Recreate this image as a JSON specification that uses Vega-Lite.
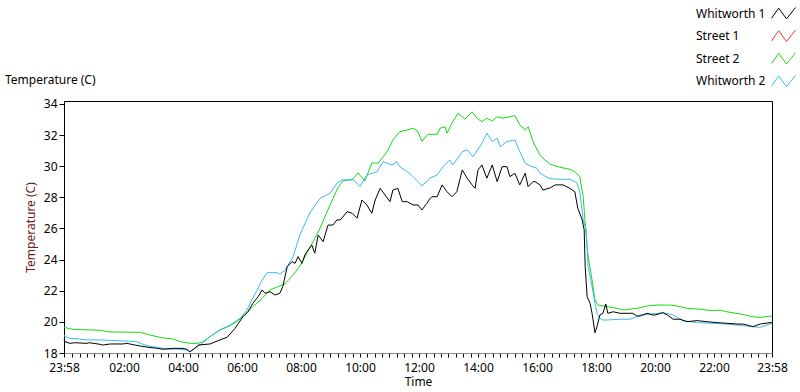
{
  "$schema": "https://vega.github.io/schema/vega-lite/v6.json",
  "width": 708,
  "height": 252,
  "autosize": "none",
  "padding": {"left": 64, "top": 101, "right": 28, "bottom": 39},
  "background": "white",
  "title": {"text": "Temperature (C)", "anchor": "start", "frame": "group", "dx": -59, "offset": 0, "dy": 86, "fontSize": 12, "fontWeight": "normal", "font": "Noto Sans", "color": "#000000"},
  "config": {
    "view": {"stroke": "#000000"},
    "font": "Noto Sans",
    "axis": {"labelFont": "Noto Sans", "labelFontSize": 12, "labelColor": "#000000", "tickColor": "#000000", "domainColor": "#000000", "grid": false, "titleFont": "Noto Sans", "titleFontSize": 12, "titleFontWeight": "normal", "titleColor": "#000000"}
  },
  "data": {"values": [
    {"s":"Street 2","t":"2024-01-01T23:58","v":19.65},
    {"s":"Street 2","t":"2024-01-02T00:16","v":19.52},
    {"s":"Street 2","t":"2024-01-02T01:11","v":19.46},
    {"s":"Street 2","t":"2024-01-02T01:32","v":19.35},
    {"s":"Street 2","t":"2024-01-02T02:33","v":19.33},
    {"s":"Street 2","t":"2024-01-02T02:47","v":19.20},
    {"s":"Street 2","t":"2024-01-02T02:59","v":19.11},
    {"s":"Street 2","t":"2024-01-02T03:17","v":18.98},
    {"s":"Street 2","t":"2024-01-02T03:40","v":18.90},
    {"s":"Street 2","t":"2024-01-02T03:54","v":18.73},
    {"s":"Street 2","t":"2024-01-02T04:14","v":18.62},
    {"s":"Street 2","t":"2024-01-02T04:31","v":18.62},
    {"s":"Street 2","t":"2024-01-02T04:40","v":18.72},
    {"s":"Street 2","t":"2024-01-02T04:55","v":19.05},
    {"s":"Street 2","t":"2024-01-02T05:15","v":19.48},
    {"s":"Street 2","t":"2024-01-02T05:36","v":19.75},
    {"s":"Street 2","t":"2024-01-02T05:56","v":20.17},
    {"s":"Street 2","t":"2024-01-02T06:10","v":20.59},
    {"s":"Street 2","t":"2024-01-02T06:22","v":20.98},
    {"s":"Street 2","t":"2024-01-02T06:41","v":21.51},
    {"s":"Street 2","t":"2024-01-02T06:57","v":22.05},
    {"s":"Street 2","t":"2024-01-02T07:17","v":22.31},
    {"s":"Street 2","t":"2024-01-02T07:27","v":22.43},
    {"s":"Street 2","t":"2024-01-02T07:44","v":23.01},
    {"s":"Street 2","t":"2024-01-02T07:58","v":23.60},
    {"s":"Street 2","t":"2024-01-02T08:18","v":24.75},
    {"s":"Street 2","t":"2024-01-02T08:39","v":26.03},
    {"s":"Street 2","t":"2024-01-02T08:59","v":27.51},
    {"s":"Street 2","t":"2024-01-02T09:15","v":28.60},
    {"s":"Street 2","t":"2024-01-02T09:25","v":29.05},
    {"s":"Street 2","t":"2024-01-02T09:46","v":29.18},
    {"s":"Street 2","t":"2024-01-02T09:56","v":29.57},
    {"s":"Street 2","t":"2024-01-02T10:10","v":29.05},
    {"s":"Street 2","t":"2024-01-02T10:24","v":30.21},
    {"s":"Street 2","t":"2024-01-02T10:37","v":30.21},
    {"s":"Street 2","t":"2024-01-02T10:47","v":30.60},
    {"s":"Street 2","t":"2024-01-02T10:57","v":31.04},
    {"s":"Street 2","t":"2024-01-02T11:07","v":31.69},
    {"s":"Street 2","t":"2024-01-02T11:21","v":32.22},
    {"s":"Street 2","t":"2024-01-02T11:36","v":32.33},
    {"s":"Street 2","t":"2024-01-02T11:48","v":32.44},
    {"s":"Street 2","t":"2024-01-02T11:58","v":32.22},
    {"s":"Street 2","t":"2024-01-02T12:06","v":31.60},
    {"s":"Street 2","t":"2024-01-02T12:18","v":32.05},
    {"s":"Street 2","t":"2024-01-02T12:37","v":32.05},
    {"s":"Street 2","t":"2024-01-02T12:43","v":32.44},
    {"s":"Street 2","t":"2024-01-02T12:53","v":32.54},
    {"s":"Street 2","t":"2024-01-02T12:57","v":32.12},
    {"s":"Street 2","t":"2024-01-02T13:07","v":32.76},
    {"s":"Street 2","t":"2024-01-02T13:19","v":33.40},
    {"s":"Street 2","t":"2024-01-02T13:34","v":33.04},
    {"s":"Street 2","t":"2024-01-02T13:48","v":33.50},
    {"s":"Street 2","t":"2024-01-02T13:58","v":33.08},
    {"s":"Street 2","t":"2024-01-02T14:08","v":32.86},
    {"s":"Street 2","t":"2024-01-02T14:18","v":33.08},
    {"s":"Street 2","t":"2024-01-02T14:29","v":32.91},
    {"s":"Street 2","t":"2024-01-02T14:39","v":33.18},
    {"s":"Street 2","t":"2024-01-02T14:51","v":33.08},
    {"s":"Street 2","t":"2024-01-02T15:05","v":33.18},
    {"s":"Street 2","t":"2024-01-02T15:15","v":33.25},
    {"s":"Street 2","t":"2024-01-02T15:25","v":32.65},
    {"s":"Street 2","t":"2024-01-02T15:36","v":32.33},
    {"s":"Street 2","t":"2024-01-02T15:42","v":32.54},
    {"s":"Street 2","t":"2024-01-02T15:52","v":31.58},
    {"s":"Street 2","t":"2024-01-02T16:06","v":30.72},
    {"s":"Street 2","t":"2024-01-02T16:16","v":30.40},
    {"s":"Street 2","t":"2024-01-02T16:26","v":30.14},
    {"s":"Street 2","t":"2024-01-02T16:47","v":29.93},
    {"s":"Street 2","t":"2024-01-02T17:07","v":29.80},
    {"s":"Street 2","t":"2024-01-02T17:17","v":29.65},
    {"s":"Street 2","t":"2024-01-02T17:27","v":29.33},
    {"s":"Street 2","t":"2024-01-02T17:34","v":28.04},
    {"s":"Street 2","t":"2024-01-02T17:38","v":26.35},
    {"s":"Street 2","t":"2024-01-02T17:44","v":24.19},
    {"s":"Street 2","t":"2024-01-02T17:52","v":22.69},
    {"s":"Street 2","t":"2024-01-02T17:58","v":21.41},
    {"s":"Street 2","t":"2024-01-02T18:04","v":21.08},
    {"s":"Street 2","t":"2024-01-02T18:22","v":20.98},
    {"s":"Street 2","t":"2024-01-02T18:43","v":20.87},
    {"s":"Street 2","t":"2024-01-02T18:55","v":20.76},
    {"s":"Street 2","t":"2024-01-02T19:23","v":20.87},
    {"s":"Street 2","t":"2024-01-02T19:44","v":21.02},
    {"s":"Street 2","t":"2024-01-02T20:04","v":21.08},
    {"s":"Street 2","t":"2024-01-02T20:31","v":21.08},
    {"s":"Street 2","t":"2024-01-02T20:45","v":21.02},
    {"s":"Street 2","t":"2024-01-02T21:05","v":20.87},
    {"s":"Street 2","t":"2024-01-02T21:32","v":20.81},
    {"s":"Street 2","t":"2024-01-02T21:58","v":20.72},
    {"s":"Street 2","t":"2024-01-02T22:12","v":20.76},
    {"s":"Street 2","t":"2024-01-02T22:26","v":20.65},
    {"s":"Street 2","t":"2024-01-02T22:53","v":20.51},
    {"s":"Street 2","t":"2024-01-02T23:19","v":20.33},
    {"s":"Street 2","t":"2024-01-02T23:34","v":20.29},
    {"s":"Street 2","t":"2024-01-02T23:58","v":20.38},

    {"s":"Whitworth 2","t":"2024-01-01T23:58","v":19.16},
    {"s":"Whitworth 2","t":"2024-01-02T00:00","v":19.05},
    {"s":"Whitworth 2","t":"2024-01-02T00:10","v":18.94},
    {"s":"Whitworth 2","t":"2024-01-02T00:30","v":18.90},
    {"s":"Whitworth 2","t":"2024-01-02T00:45","v":18.84},
    {"s":"Whitworth 2","t":"2024-01-02T01:11","v":18.84},
    {"s":"Whitworth 2","t":"2024-01-02T01:48","v":18.79},
    {"s":"Whitworth 2","t":"2024-01-02T02:26","v":18.73},
    {"s":"Whitworth 2","t":"2024-01-02T02:37","v":18.58},
    {"s":"Whitworth 2","t":"2024-01-02T02:49","v":18.45},
    {"s":"Whitworth 2","t":"2024-01-02T03:07","v":18.37},
    {"s":"Whitworth 2","t":"2024-01-02T03:19","v":18.30},
    {"s":"Whitworth 2","t":"2024-01-02T03:34","v":18.24},
    {"s":"Whitworth 2","t":"2024-01-02T03:44","v":18.26},
    {"s":"Whitworth 2","t":"2024-01-02T04:08","v":18.19},
    {"s":"Whitworth 2","t":"2024-01-02T04:14","v":18.08},
    {"s":"Whitworth 2","t":"2024-01-02T04:24","v":18.30},
    {"s":"Whitworth 2","t":"2024-01-02T04:35","v":18.51},
    {"s":"Whitworth 2","t":"2024-01-02T04:55","v":19.05},
    {"s":"Whitworth 2","t":"2024-01-02T05:15","v":19.48},
    {"s":"Whitworth 2","t":"2024-01-02T05:36","v":19.80},
    {"s":"Whitworth 2","t":"2024-01-02T05:56","v":20.23},
    {"s":"Whitworth 2","t":"2024-01-02T06:10","v":20.76},
    {"s":"Whitworth 2","t":"2024-01-02T06:20","v":21.41},
    {"s":"Whitworth 2","t":"2024-01-02T06:31","v":22.05},
    {"s":"Whitworth 2","t":"2024-01-02T06:41","v":22.69},
    {"s":"Whitworth 2","t":"2024-01-02T06:51","v":23.16},
    {"s":"Whitworth 2","t":"2024-01-02T07:11","v":23.16},
    {"s":"Whitworth 2","t":"2024-01-02T07:17","v":23.08},
    {"s":"Whitworth 2","t":"2024-01-02T07:27","v":23.29},
    {"s":"Whitworth 2","t":"2024-01-02T07:44","v":24.19},
    {"s":"Whitworth 2","t":"2024-01-02T07:58","v":25.60},
    {"s":"Whitworth 2","t":"2024-01-02T08:18","v":27.00},
    {"s":"Whitworth 2","t":"2024-01-02T08:39","v":27.94},
    {"s":"Whitworth 2","t":"2024-01-02T08:59","v":28.26},
    {"s":"Whitworth 2","t":"2024-01-02T09:13","v":28.90},
    {"s":"Whitworth 2","t":"2024-01-02T09:23","v":29.12},
    {"s":"Whitworth 2","t":"2024-01-02T09:46","v":29.12},
    {"s":"Whitworth 2","t":"2024-01-02T09:54","v":28.90},
    {"s":"Whitworth 2","t":"2024-01-02T10:00","v":28.69},
    {"s":"Whitworth 2","t":"2024-01-02T10:14","v":29.44},
    {"s":"Whitworth 2","t":"2024-01-02T10:35","v":29.65},
    {"s":"Whitworth 2","t":"2024-01-02T10:47","v":30.29},
    {"s":"Whitworth 2","t":"2024-01-02T11:05","v":30.08},
    {"s":"Whitworth 2","t":"2024-01-02T11:15","v":30.29},
    {"s":"Whitworth 2","t":"2024-01-02T11:21","v":29.97},
    {"s":"Whitworth 2","t":"2024-01-02T11:36","v":29.65},
    {"s":"Whitworth 2","t":"2024-01-02T11:48","v":29.33},
    {"s":"Whitworth 2","t":"2024-01-02T11:58","v":29.01},
    {"s":"Whitworth 2","t":"2024-01-02T12:06","v":28.75},
    {"s":"Whitworth 2","t":"2024-01-02T12:16","v":29.00},
    {"s":"Whitworth 2","t":"2024-01-02T12:22","v":29.23},
    {"s":"Whitworth 2","t":"2024-01-02T12:37","v":29.44},
    {"s":"Whitworth 2","t":"2024-01-02T12:49","v":29.97},
    {"s":"Whitworth 2","t":"2024-01-02T13:03","v":30.40},
    {"s":"Whitworth 2","t":"2024-01-02T13:09","v":30.08},
    {"s":"Whitworth 2","t":"2024-01-02T13:28","v":30.94},
    {"s":"Whitworth 2","t":"2024-01-02T13:38","v":31.05},
    {"s":"Whitworth 2","t":"2024-01-02T13:50","v":30.61},
    {"s":"Whitworth 2","t":"2024-01-02T14:08","v":31.47},
    {"s":"Whitworth 2","t":"2024-01-02T14:18","v":32.12},
    {"s":"Whitworth 2","t":"2024-01-02T14:29","v":31.58},
    {"s":"Whitworth 2","t":"2024-01-02T14:39","v":31.80},
    {"s":"Whitworth 2","t":"2024-01-02T14:45","v":31.26},
    {"s":"Whitworth 2","t":"2024-01-02T14:59","v":31.58},
    {"s":"Whitworth 2","t":"2024-01-02T15:15","v":31.69},
    {"s":"Whitworth 2","t":"2024-01-02T15:25","v":30.94},
    {"s":"Whitworth 2","t":"2024-01-02T15:36","v":30.19},
    {"s":"Whitworth 2","t":"2024-01-02T15:46","v":30.02},
    {"s":"Whitworth 2","t":"2024-01-02T16:00","v":29.87},
    {"s":"Whitworth 2","t":"2024-01-02T16:06","v":29.55},
    {"s":"Whitworth 2","t":"2024-01-02T16:12","v":29.44},
    {"s":"Whitworth 2","t":"2024-01-02T16:26","v":29.20},
    {"s":"Whitworth 2","t":"2024-01-02T16:47","v":29.16},
    {"s":"Whitworth 2","t":"2024-01-02T17:07","v":29.16},
    {"s":"Whitworth 2","t":"2024-01-02T17:21","v":28.94},
    {"s":"Whitworth 2","t":"2024-01-02T17:27","v":28.36},
    {"s":"Whitworth 2","t":"2024-01-02T17:34","v":26.55},
    {"s":"Whitworth 2","t":"2024-01-02T17:40","v":25.90},
    {"s":"Whitworth 2","t":"2024-01-02T17:44","v":23.55},
    {"s":"Whitworth 2","t":"2024-01-02T17:52","v":22.26},
    {"s":"Whitworth 2","t":"2024-01-02T17:58","v":21.19},
    {"s":"Whitworth 2","t":"2024-01-02T18:02","v":20.55},
    {"s":"Whitworth 2","t":"2024-01-02T18:08","v":20.23},
    {"s":"Whitworth 2","t":"2024-01-02T18:14","v":20.12},
    {"s":"Whitworth 2","t":"2024-01-02T18:22","v":20.12},
    {"s":"Whitworth 2","t":"2024-01-02T18:49","v":20.17},
    {"s":"Whitworth 2","t":"2024-01-02T19:09","v":20.17},
    {"s":"Whitworth 2","t":"2024-01-02T19:23","v":20.33},
    {"s":"Whitworth 2","t":"2024-01-02T19:30","v":20.44},
    {"s":"Whitworth 2","t":"2024-01-02T19:56","v":20.51},
    {"s":"Whitworth 2","t":"2024-01-02T20:16","v":20.59},
    {"s":"Whitworth 2","t":"2024-01-02T20:37","v":20.44},
    {"s":"Whitworth 2","t":"2024-01-02T20:57","v":20.08},
    {"s":"Whitworth 2","t":"2024-01-02T21:26","v":19.95},
    {"s":"Whitworth 2","t":"2024-01-02T21:58","v":19.91},
    {"s":"Whitworth 2","t":"2024-01-02T22:26","v":19.86},
    {"s":"Whitworth 2","t":"2024-01-02T22:53","v":19.78},
    {"s":"Whitworth 2","t":"2024-01-02T23:19","v":19.69},
    {"s":"Whitworth 2","t":"2024-01-02T23:34","v":19.65},
    {"s":"Whitworth 2","t":"2024-01-02T23:58","v":19.91},

    {"s":"Whitworth 1","t":"2024-01-01T23:58","v":18.88},
    {"s":"Whitworth 1","t":"2024-01-02T00:00","v":18.73},
    {"s":"Whitworth 1","t":"2024-01-02T00:10","v":18.62},
    {"s":"Whitworth 1","t":"2024-01-02T00:20","v":18.66},
    {"s":"Whitworth 1","t":"2024-01-02T00:45","v":18.62},
    {"s":"Whitworth 1","t":"2024-01-02T00:50","v":18.66},
    {"s":"Whitworth 1","t":"2024-01-02T01:11","v":18.56},
    {"s":"Whitworth 1","t":"2024-01-02T01:17","v":18.51},
    {"s":"Whitworth 1","t":"2024-01-02T01:32","v":18.58},
    {"s":"Whitworth 1","t":"2024-01-02T01:58","v":18.58},
    {"s":"Whitworth 1","t":"2024-01-02T02:06","v":18.62},
    {"s":"Whitworth 1","t":"2024-01-02T02:22","v":18.51},
    {"s":"Whitworth 1","t":"2024-01-02T02:33","v":18.45},
    {"s":"Whitworth 1","t":"2024-01-02T02:49","v":18.37},
    {"s":"Whitworth 1","t":"2024-01-02T03:07","v":18.30},
    {"s":"Whitworth 1","t":"2024-01-02T03:19","v":18.24},
    {"s":"Whitworth 1","t":"2024-01-02T03:40","v":18.30},
    {"s":"Whitworth 1","t":"2024-01-02T04:00","v":18.30},
    {"s":"Whitworth 1","t":"2024-01-02T04:08","v":18.24},
    {"s":"Whitworth 1","t":"2024-01-02T04:14","v":18.08},
    {"s":"Whitworth 1","t":"2024-01-02T04:24","v":18.30},
    {"s":"Whitworth 1","t":"2024-01-02T04:31","v":18.51},
    {"s":"Whitworth 1","t":"2024-01-02T04:55","v":18.58},
    {"s":"Whitworth 1","t":"2024-01-02T05:15","v":18.84},
    {"s":"Whitworth 1","t":"2024-01-02T05:30","v":19.01},
    {"s":"Whitworth 1","t":"2024-01-02T05:46","v":19.59},
    {"s":"Whitworth 1","t":"2024-01-02T06:02","v":20.33},
    {"s":"Whitworth 1","t":"2024-01-02T06:12","v":20.65},
    {"s":"Whitworth 1","t":"2024-01-02T06:22","v":21.19},
    {"s":"Whitworth 1","t":"2024-01-02T06:33","v":21.62},
    {"s":"Whitworth 1","t":"2024-01-02T06:41","v":22.05},
    {"s":"Whitworth 1","t":"2024-01-02T06:47","v":21.84},
    {"s":"Whitworth 1","t":"2024-01-02T06:57","v":21.94},
    {"s":"Whitworth 1","t":"2024-01-02T07:07","v":21.73},
    {"s":"Whitworth 1","t":"2024-01-02T07:17","v":21.84},
    {"s":"Whitworth 1","t":"2024-01-02T07:23","v":22.26},
    {"s":"Whitworth 1","t":"2024-01-02T07:32","v":23.55},
    {"s":"Whitworth 1","t":"2024-01-02T07:42","v":23.87},
    {"s":"Whitworth 1","t":"2024-01-02T07:48","v":23.76},
    {"s":"Whitworth 1","t":"2024-01-02T07:54","v":24.19},
    {"s":"Whitworth 1","t":"2024-01-02T08:02","v":23.76},
    {"s":"Whitworth 1","t":"2024-01-02T08:08","v":24.30},
    {"s":"Whitworth 1","t":"2024-01-02T08:12","v":24.51},
    {"s":"Whitworth 1","t":"2024-01-02T08:22","v":24.94},
    {"s":"Whitworth 1","t":"2024-01-02T08:28","v":24.41},
    {"s":"Whitworth 1","t":"2024-01-02T08:35","v":25.58},
    {"s":"Whitworth 1","t":"2024-01-02T08:45","v":25.15},
    {"s":"Whitworth 1","t":"2024-01-02T08:55","v":26.22},
    {"s":"Whitworth 1","t":"2024-01-02T09:05","v":26.22},
    {"s":"Whitworth 1","t":"2024-01-02T09:13","v":26.55},
    {"s":"Whitworth 1","t":"2024-01-02T09:20","v":26.55},
    {"s":"Whitworth 1","t":"2024-01-02T09:34","v":27.08},
    {"s":"Whitworth 1","t":"2024-01-02T09:44","v":26.98},
    {"s":"Whitworth 1","t":"2024-01-02T09:54","v":26.66},
    {"s":"Whitworth 1","t":"2024-01-02T10:04","v":27.83},
    {"s":"Whitworth 1","t":"2024-01-02T10:14","v":27.51},
    {"s":"Whitworth 1","t":"2024-01-02T10:24","v":26.98},
    {"s":"Whitworth 1","t":"2024-01-02T10:31","v":27.83},
    {"s":"Whitworth 1","t":"2024-01-02T10:41","v":28.58},
    {"s":"Whitworth 1","t":"2024-01-02T10:51","v":28.15},
    {"s":"Whitworth 1","t":"2024-01-02T11:01","v":27.72},
    {"s":"Whitworth 1","t":"2024-01-02T11:07","v":28.47},
    {"s":"Whitworth 1","t":"2024-01-02T11:17","v":28.58},
    {"s":"Whitworth 1","t":"2024-01-02T11:26","v":27.72},
    {"s":"Whitworth 1","t":"2024-01-02T11:36","v":27.72},
    {"s":"Whitworth 1","t":"2024-01-02T11:48","v":27.51},
    {"s":"Whitworth 1","t":"2024-01-02T11:58","v":27.51},
    {"s":"Whitworth 1","t":"2024-01-02T12:06","v":27.19},
    {"s":"Whitworth 1","t":"2024-01-02T12:16","v":27.62},
    {"s":"Whitworth 1","t":"2024-01-02T12:22","v":27.90},
    {"s":"Whitworth 1","t":"2024-01-02T12:26","v":28.04},
    {"s":"Whitworth 1","t":"2024-01-02T12:37","v":28.04},
    {"s":"Whitworth 1","t":"2024-01-02T12:47","v":28.80},
    {"s":"Whitworth 1","t":"2024-01-02T12:57","v":28.36},
    {"s":"Whitworth 1","t":"2024-01-02T13:07","v":28.04},
    {"s":"Whitworth 1","t":"2024-01-02T13:17","v":28.36},
    {"s":"Whitworth 1","t":"2024-01-02T13:28","v":29.76},
    {"s":"Whitworth 1","t":"2024-01-02T13:38","v":29.23},
    {"s":"Whitworth 1","t":"2024-01-02T13:48","v":28.80},
    {"s":"Whitworth 1","t":"2024-01-02T13:54","v":28.58},
    {"s":"Whitworth 1","t":"2024-01-02T14:00","v":29.76},
    {"s":"Whitworth 1","t":"2024-01-02T14:08","v":30.08},
    {"s":"Whitworth 1","t":"2024-01-02T14:18","v":29.23},
    {"s":"Whitworth 1","t":"2024-01-02T14:29","v":30.08},
    {"s":"Whitworth 1","t":"2024-01-02T14:39","v":29.01},
    {"s":"Whitworth 1","t":"2024-01-02T14:49","v":29.97},
    {"s":"Whitworth 1","t":"2024-01-02T14:59","v":29.97},
    {"s":"Whitworth 1","t":"2024-01-02T15:05","v":29.33},
    {"s":"Whitworth 1","t":"2024-01-02T15:15","v":29.55},
    {"s":"Whitworth 1","t":"2024-01-02T15:25","v":28.80},
    {"s":"Whitworth 1","t":"2024-01-02T15:36","v":29.55},
    {"s":"Whitworth 1","t":"2024-01-02T15:42","v":28.69},
    {"s":"Whitworth 1","t":"2024-01-02T15:52","v":29.01},
    {"s":"Whitworth 1","t":"2024-01-02T15:56","v":29.01},
    {"s":"Whitworth 1","t":"2024-01-02T16:06","v":28.80},
    {"s":"Whitworth 1","t":"2024-01-02T16:12","v":28.47},
    {"s":"Whitworth 1","t":"2024-01-02T16:26","v":28.60},
    {"s":"Whitworth 1","t":"2024-01-02T16:37","v":28.80},
    {"s":"Whitworth 1","t":"2024-01-02T16:53","v":28.80},
    {"s":"Whitworth 1","t":"2024-01-02T17:07","v":28.58},
    {"s":"Whitworth 1","t":"2024-01-02T17:17","v":28.36},
    {"s":"Whitworth 1","t":"2024-01-02T17:23","v":27.30},
    {"s":"Whitworth 1","t":"2024-01-02T17:32","v":26.55},
    {"s":"Whitworth 1","t":"2024-01-02T17:36","v":25.90},
    {"s":"Whitworth 1","t":"2024-01-02T17:38","v":23.55},
    {"s":"Whitworth 1","t":"2024-01-02T17:42","v":21.62},
    {"s":"Whitworth 1","t":"2024-01-02T17:48","v":21.19},
    {"s":"Whitworth 1","t":"2024-01-02T17:52","v":20.55},
    {"s":"Whitworth 1","t":"2024-01-02T17:58","v":19.30},
    {"s":"Whitworth 1","t":"2024-01-02T18:02","v":19.69},
    {"s":"Whitworth 1","t":"2024-01-02T18:08","v":20.44},
    {"s":"Whitworth 1","t":"2024-01-02T18:14","v":20.55},
    {"s":"Whitworth 1","t":"2024-01-02T18:20","v":21.15},
    {"s":"Whitworth 1","t":"2024-01-02T18:24","v":20.55},
    {"s":"Whitworth 1","t":"2024-01-02T18:35","v":20.65},
    {"s":"Whitworth 1","t":"2024-01-02T18:49","v":20.55},
    {"s":"Whitworth 1","t":"2024-01-02T19:03","v":20.55},
    {"s":"Whitworth 1","t":"2024-01-02T19:15","v":20.55},
    {"s":"Whitworth 1","t":"2024-01-02T19:23","v":20.38},
    {"s":"Whitworth 1","t":"2024-01-02T19:30","v":20.38},
    {"s":"Whitworth 1","t":"2024-01-02T19:44","v":20.55},
    {"s":"Whitworth 1","t":"2024-01-02T19:56","v":20.44},
    {"s":"Whitworth 1","t":"2024-01-02T20:00","v":20.44},
    {"s":"Whitworth 1","t":"2024-01-02T20:16","v":20.59},
    {"s":"Whitworth 1","t":"2024-01-02T20:25","v":20.44},
    {"s":"Whitworth 1","t":"2024-01-02T20:37","v":20.17},
    {"s":"Whitworth 1","t":"2024-01-02T20:51","v":20.17},
    {"s":"Whitworth 1","t":"2024-01-02T21:05","v":20.01},
    {"s":"Whitworth 1","t":"2024-01-02T21:26","v":20.08},
    {"s":"Whitworth 1","t":"2024-01-02T21:46","v":20.01},
    {"s":"Whitworth 1","t":"2024-01-02T22:06","v":19.95},
    {"s":"Whitworth 1","t":"2024-01-02T22:26","v":19.91},
    {"s":"Whitworth 1","t":"2024-01-02T22:47","v":19.86},
    {"s":"Whitworth 1","t":"2024-01-02T23:00","v":19.86},
    {"s":"Whitworth 1","t":"2024-01-02T23:19","v":19.69},
    {"s":"Whitworth 1","t":"2024-01-02T23:34","v":19.86},
    {"s":"Whitworth 1","t":"2024-01-02T23:54","v":19.95},
    {"s":"Whitworth 1","t":"2024-01-02T23:58","v":19.95}
  ]},
  "mark": {"type": "line", "strokeWidth": 1},
  "encoding": {
    "x": {"field": "t", "type": "temporal",
      "scale": {"domain": [{"year": 2024, "month": 1, "date": 1, "hours": 23, "minutes": 58}, {"year": 2024, "month": 1, "date": 2, "hours": 23, "minutes": 58}]},
      "axis": {"tickSize": 4, "labelPadding": 5, "labelFlush": false, "labelOverlap": false, "domainColor": "#8a8a8a", "title": "Time", "titlePadding": 3,
        "labelExpr": "(minutes(datum.value) == 58) || (minutes(datum.value) == 0 && hours(datum.value) % 2 == 0 && hours(datum.value) > 0) ? timeFormat(datum.value, '%H:%M') : ''",
        "values": [
          {"year":2024,"month":1,"date":1,"hours":23,"minutes":58},
          {"year":2024,"month":1,"date":2,"hours":0,"minutes":15},{"year":2024,"month":1,"date":2,"hours":0,"minutes":30},{"year":2024,"month":1,"date":2,"hours":0,"minutes":45},
          {"year":2024,"month":1,"date":2,"hours":1,"minutes":0},{"year":2024,"month":1,"date":2,"hours":1,"minutes":15},{"year":2024,"month":1,"date":2,"hours":1,"minutes":30},{"year":2024,"month":1,"date":2,"hours":1,"minutes":45},
          {"year":2024,"month":1,"date":2,"hours":2,"minutes":0},{"year":2024,"month":1,"date":2,"hours":2,"minutes":15},{"year":2024,"month":1,"date":2,"hours":2,"minutes":30},{"year":2024,"month":1,"date":2,"hours":2,"minutes":45},
          {"year":2024,"month":1,"date":2,"hours":3,"minutes":0},{"year":2024,"month":1,"date":2,"hours":3,"minutes":15},{"year":2024,"month":1,"date":2,"hours":3,"minutes":30},{"year":2024,"month":1,"date":2,"hours":3,"minutes":45},
          {"year":2024,"month":1,"date":2,"hours":4,"minutes":0},{"year":2024,"month":1,"date":2,"hours":4,"minutes":15},{"year":2024,"month":1,"date":2,"hours":4,"minutes":30},{"year":2024,"month":1,"date":2,"hours":4,"minutes":45},
          {"year":2024,"month":1,"date":2,"hours":5,"minutes":0},{"year":2024,"month":1,"date":2,"hours":5,"minutes":15},{"year":2024,"month":1,"date":2,"hours":5,"minutes":30},{"year":2024,"month":1,"date":2,"hours":5,"minutes":45},
          {"year":2024,"month":1,"date":2,"hours":6,"minutes":0},{"year":2024,"month":1,"date":2,"hours":6,"minutes":15},{"year":2024,"month":1,"date":2,"hours":6,"minutes":30},{"year":2024,"month":1,"date":2,"hours":6,"minutes":45},
          {"year":2024,"month":1,"date":2,"hours":7,"minutes":0},{"year":2024,"month":1,"date":2,"hours":7,"minutes":15},{"year":2024,"month":1,"date":2,"hours":7,"minutes":30},{"year":2024,"month":1,"date":2,"hours":7,"minutes":45},
          {"year":2024,"month":1,"date":2,"hours":8,"minutes":0},{"year":2024,"month":1,"date":2,"hours":8,"minutes":15},{"year":2024,"month":1,"date":2,"hours":8,"minutes":30},{"year":2024,"month":1,"date":2,"hours":8,"minutes":45},
          {"year":2024,"month":1,"date":2,"hours":9,"minutes":0},{"year":2024,"month":1,"date":2,"hours":9,"minutes":15},{"year":2024,"month":1,"date":2,"hours":9,"minutes":30},{"year":2024,"month":1,"date":2,"hours":9,"minutes":45},
          {"year":2024,"month":1,"date":2,"hours":10,"minutes":0},{"year":2024,"month":1,"date":2,"hours":10,"minutes":15},{"year":2024,"month":1,"date":2,"hours":10,"minutes":30},{"year":2024,"month":1,"date":2,"hours":10,"minutes":45},
          {"year":2024,"month":1,"date":2,"hours":11,"minutes":0},{"year":2024,"month":1,"date":2,"hours":11,"minutes":15},{"year":2024,"month":1,"date":2,"hours":11,"minutes":30},{"year":2024,"month":1,"date":2,"hours":11,"minutes":45},
          {"year":2024,"month":1,"date":2,"hours":12,"minutes":0},{"year":2024,"month":1,"date":2,"hours":12,"minutes":15},{"year":2024,"month":1,"date":2,"hours":12,"minutes":30},{"year":2024,"month":1,"date":2,"hours":12,"minutes":45},
          {"year":2024,"month":1,"date":2,"hours":13,"minutes":0},{"year":2024,"month":1,"date":2,"hours":13,"minutes":15},{"year":2024,"month":1,"date":2,"hours":13,"minutes":30},{"year":2024,"month":1,"date":2,"hours":13,"minutes":45},
          {"year":2024,"month":1,"date":2,"hours":14,"minutes":0},{"year":2024,"month":1,"date":2,"hours":14,"minutes":15},{"year":2024,"month":1,"date":2,"hours":14,"minutes":30},{"year":2024,"month":1,"date":2,"hours":14,"minutes":45},
          {"year":2024,"month":1,"date":2,"hours":15,"minutes":0},{"year":2024,"month":1,"date":2,"hours":15,"minutes":15},{"year":2024,"month":1,"date":2,"hours":15,"minutes":30},{"year":2024,"month":1,"date":2,"hours":15,"minutes":45},
          {"year":2024,"month":1,"date":2,"hours":16,"minutes":0},{"year":2024,"month":1,"date":2,"hours":16,"minutes":15},{"year":2024,"month":1,"date":2,"hours":16,"minutes":30},{"year":2024,"month":1,"date":2,"hours":16,"minutes":45},
          {"year":2024,"month":1,"date":2,"hours":17,"minutes":0},{"year":2024,"month":1,"date":2,"hours":17,"minutes":15},{"year":2024,"month":1,"date":2,"hours":17,"minutes":30},{"year":2024,"month":1,"date":2,"hours":17,"minutes":45},
          {"year":2024,"month":1,"date":2,"hours":18,"minutes":0},{"year":2024,"month":1,"date":2,"hours":18,"minutes":15},{"year":2024,"month":1,"date":2,"hours":18,"minutes":30},{"year":2024,"month":1,"date":2,"hours":18,"minutes":45},
          {"year":2024,"month":1,"date":2,"hours":19,"minutes":0},{"year":2024,"month":1,"date":2,"hours":19,"minutes":15},{"year":2024,"month":1,"date":2,"hours":19,"minutes":30},{"year":2024,"month":1,"date":2,"hours":19,"minutes":45},
          {"year":2024,"month":1,"date":2,"hours":20,"minutes":0},{"year":2024,"month":1,"date":2,"hours":20,"minutes":15},{"year":2024,"month":1,"date":2,"hours":20,"minutes":30},{"year":2024,"month":1,"date":2,"hours":20,"minutes":45},
          {"year":2024,"month":1,"date":2,"hours":21,"minutes":0},{"year":2024,"month":1,"date":2,"hours":21,"minutes":15},{"year":2024,"month":1,"date":2,"hours":21,"minutes":30},{"year":2024,"month":1,"date":2,"hours":21,"minutes":45},
          {"year":2024,"month":1,"date":2,"hours":22,"minutes":0},{"year":2024,"month":1,"date":2,"hours":22,"minutes":15},{"year":2024,"month":1,"date":2,"hours":22,"minutes":30},{"year":2024,"month":1,"date":2,"hours":22,"minutes":45},
          {"year":2024,"month":1,"date":2,"hours":23,"minutes":0},{"year":2024,"month":1,"date":2,"hours":23,"minutes":15},{"year":2024,"month":1,"date":2,"hours":23,"minutes":30},{"year":2024,"month":1,"date":2,"hours":23,"minutes":45},
          {"year":2024,"month":1,"date":2,"hours":23,"minutes":58}
        ]}},
    "y": {"field": "v", "type": "quantitative",
      "scale": {"domain": [18, 34.19], "nice": false, "zero": false},
      "axis": {"values": [18, 20, 22, 24, 26, 28, 30, 32, 34], "tickSize": 5, "labelPadding": 2, "domainColor": "#000000", "title": "Temperature (C)", "titleColor": "#6b1a1a", "titlePadding": 6}},
    "color": {"field": "s", "type": "nominal",
      "scale": {"domain": ["Whitworth 1", "Street 1", "Street 2", "Whitworth 2"], "range": ["#000000", "#ff3333", "#14dc14", "#3db8f0"]},
      "legend": {"orient": "none", "legendX": 707, "legendY": -100, "title": null, "padding": 0,
        "symbolType": "M-1,0.4L-0.4,-0.45L0.25,0.45L1,-0.5", "symbolSize": 576, "symbolStrokeWidth": 1,
        "labelFont": "Noto Sans", "labelFontSize": 12, "labelColor": "#000000", "labelOffset": -100, "rowPadding": 2.6}}
  }
}
